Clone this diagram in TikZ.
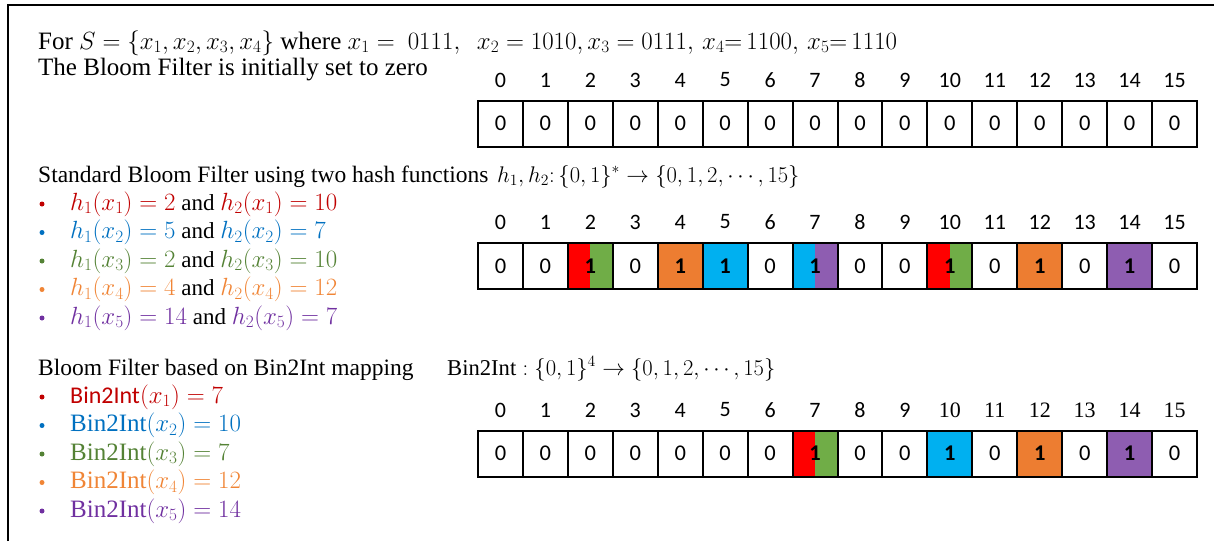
\documentclass[tikz,border=0pt]{standalone}
\usepackage{fontspec}
\setmainfont{Liberation Serif}
\newfontfamily\calfont{Carlito}
\definecolor{fRed}{HTML}{FF0000}
\definecolor{fGreen}{HTML}{70AD47}
\definecolor{fOrange}{HTML}{ED7D31}
\definecolor{fBlue}{HTML}{00B0F0}
\definecolor{fPurple}{HTML}{8E5DB1}
\definecolor{tRed}{HTML}{C00000}
\definecolor{tBlue}{HTML}{0070C0}
\definecolor{tGreen}{HTML}{548235}
\definecolor{tOrange}{HTML}{F08536}
\definecolor{tPurple}{HTML}{7030A0}
\newcommand\mth[1]{{\fontsize{25}{30}\selectfont$#1$}}
\newcommand\hmth[1]{{\fontsize{20.74}{25}\selectfont\scalebox{1.09}{$#1$}}}
\tikzset{
  cell/.style={draw, line width=2pt, minimum width=44.94pt, minimum height=46pt, inner sep=0pt,
    font=\calfont\fontsize{22.5}{26}\selectfont},
  idx/.style={inner sep=0pt, font=\calfont\fontsize{22}{26}\selectfont},
  idxs/.style={inner sep=0pt, font=\fontsize{22}{26}\selectfont},
  plain/.style={},
  splitcell/.style 2 args={path picture={
    \fill[#1] (path picture bounding box.south west) rectangle (path picture bounding box.north);
    \fill[#2] (path picture bounding box.south) rectangle (path picture bounding box.north east);}},
  rg/.style={splitcell={fRed}{fGreen}},
  bp/.style={splitcell={fBlue}{fPurple}},
  oo/.style={fill=fOrange},
  bb/.style={fill=fBlue},
  pp/.style={fill=fPurple},
  txt/.style={anchor=base west, inner sep=0pt},
  big/.style={font=\fontsize{25}{30}\selectfont},
  mid/.style={font=\fontsize{23.5}{28}\selectfont},
  itm/.style={font=\fontsize{23}{28}\selectfont},
  bdot/.style={circle, inner sep=0pt, minimum size=5pt},
  frame/.style={line width=1.6pt}
}
\begin{document}
\begin{tikzpicture}[x=1pt,y=-1pt]
\useasboundingbox (0,0) rectangle (1214,541);
% frame
\coordinate (fb) at (8,541);
\coordinate (fc) at (8,5);
\coordinate (fr) at (1214,5);
\draw[frame] (fb) -- (fc) -- (fr);

% header text
\node[txt,big] (t1) at (38,49) {For $S=\{x_1,x_2,x_3,x_4\}$ where $x_1 =\ 0111,\ \ x_2 = 1010, x_3 = 0111,\, x_4{=}\,1100,\, x_5{=}\,1110$};
\node[txt,big] (t2) at (38,75) {The Bloom Filter is initially set to zero};

% array 1
\foreach \i in {0,...,15} {
  \node[cell] (a\i) at ({478+44.94*(\i+0.5)},123.5) {0};
  \node[idx] (la\i) at ({478+44.94*(\i+0.5)},80) {\i};
}

% standard bloom filter
\node[txt,mid] (s1) at (38,182) {Standard Bloom Filter using two hash functions};
\node[txt] (s2) at (497,182) {\hmth{h_1,h_2\colon\{0,1\}^{*}\to\{0,1,2,\cdots,15\}}};

\node[bdot,fill=tRed] (d1) at (42,204) {};
\node[bdot,fill=tBlue] (d2) at (42,232.5) {};
\node[bdot,fill=tGreen] (d3) at (42,261) {};
\node[bdot,fill=tOrange] (d4) at (42,289.5) {};
\node[bdot,fill=tPurple] (d5) at (42,318) {};
\node[txt,itm] (h1) at (70,210) {\color{tRed}\mth{h_1(x_1)=2} \color{black}and\ \color{tRed}\mth{h_2(x_1)=10}};
\node[txt,itm] (h2) at (70,238.5) {\color{tBlue}\mth{h_1(x_2)=5} \color{black}and \color{tBlue}\mth{h_2(x_2)=7}};
\node[txt,itm] (h3) at (70,267) {\color{tGreen}\mth{h_1(x_3)=2} \color{black}and \color{tGreen}\mth{h_2(x_3)=10}};
\node[txt,itm] (h4) at (70,295.5) {\color{tOrange}\mth{h_1(x_4)=4} \color{black}and \color{tOrange}\mth{h_2(x_4)=12}};
\node[txt,itm] (h5) at (70,324) {\color{tPurple}\mth{h_1(x_5)=14} \color{black}and \color{tPurple}\mth{h_2(x_5)=7}};

% array 2
\foreach \i/\v/\st in {0/0/plain,1/0/plain,2/1/rg,3/0/plain,4/1/oo,5/1/bb,6/0/plain,7/1/bp,8/0/plain,9/0/plain,10/1/rg,11/0/plain,12/1/oo,13/0/plain,14/1/pp,15/0/plain} {
  \node[cell,\st] (b\i) at ({478+44.94*(\i+0.5)},266) {\ifnum\v=1 \textbf{1}\else 0\fi};
  \node[idx] (lb\i) at ({478+44.94*(\i+0.5)},222) {\i};
}

% bin2int
\node[txt,mid] (m1) at (38,375) {Bloom Filter based on Bin2Int mapping};
\node[txt] (m2) at (447,375) {\hmth{\mathrm{Bin2Int}:\{0,1\}^{4}\to\{0,1,2,\cdots,15\}}};

\node[bdot,fill=tRed] (e1) at (42,397) {};
\node[bdot,fill=tBlue] (e2) at (42,425.5) {};
\node[bdot,fill=tGreen] (e3) at (42,454) {};
\node[bdot,fill=tOrange] (e4) at (42,482.5) {};
\node[bdot,fill=tPurple] (e5) at (42,511) {};
\node[txt,itm,text=tRed] (g1) at (70,403) {{\calfont\fontsize{24}{28}\selectfont Bin2Int}\mth{(x_1)=7}};
\node[txt,itm,text=tBlue] (g2) at (70,431.5) {\mth{\mathrm{Bin2Int}(x_2)=10}};
\node[txt,itm,text=tGreen] (g3) at (70,460) {\mth{\mathrm{Bin2Int}(x_3)=7}};
\node[txt,itm,text=tOrange] (g4) at (70,488.5) {\mth{\mathrm{Bin2Int}(x_4)=12}};
\node[txt,itm,text=tPurple] (g5) at (70,517) {\mth{\mathrm{Bin2Int}(x_5)=14}};

% array 3
\foreach \i/\v/\st in {0/0/plain,1/0/plain,2/0/plain,3/0/plain,4/0/plain,5/0/plain,6/0/plain,7/1/rg,8/0/plain,9/0/plain,10/1/bb,11/0/plain,12/1/oo,13/0/plain,14/1/pp,15/0/plain} {
  \node[cell,\st] (c\i) at ({478+44.94*(\i+0.5)},453.5) {\ifnum\v=1 \textbf{1}\else 0\fi};
}
\foreach \i in {0,...,9} {
  \node[idx] (lc\i) at ({478+44.94*(\i+0.5)},410) {\i};
}
\foreach \i in {10,...,15} {
  \node[idxs] (lc\i) at ({478+44.94*(\i+0.5)},410) {\i};
}
\end{tikzpicture}
\end{document}
